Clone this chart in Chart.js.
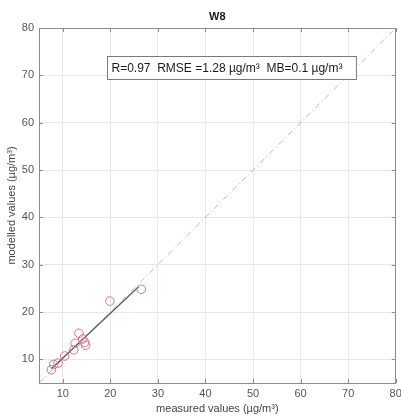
<!DOCTYPE html>
<html>
<head>
<meta charset="utf-8">
<script src="https://cdn.jsdelivr.net/npm/chart.js@4.4.1/dist/chart.umd.min.js"></script>
<style>
  html, body { margin: 0; padding: 0; background: #ffffff; }
  #wrap { width: 401px; height: 418px; position: relative; }
</style>
</head>
<body>
<div id="wrap"><canvas id="c" width="401" height="418"></canvas></div>
<script>
// Station W8: measured vs modelled concentrations
const measured = [7.6, 8.1, 9.0, 10.4, 12.3, 12.6, 13.4, 14.2, 14.6, 14.8, 19.9, 26.5];
const modelled = [7.8, 8.9, 9.2, 10.7, 12.0, 13.4, 15.5, 14.3, 13.6, 13.0, 22.3, 24.8];

// least-squares fit line end points (over the measured range)
const fitX = [7.6, 26.0];
const fitY = [8.0, 25.4];

// axis range and tick labels
const axisRange = [5, 80];
const tickValues = [10, 20, 30, 40, 50, 60, 70, 80];

const statsText = 'R=0.97  RMSE =1.28 µg/m³  MB=0.1 µg/m³';
const titleText = 'W8';

const FONT = '"Liberation Sans", Arial, sans-serif';

const points = measured.map((x, i) => ({ x: x, y: modelled[i] }));
const fitLine = fitX.map((x, i) => ({ x: x, y: fitY[i] }));
const oneToOne = axisRange.map(v => ({ x: v, y: v }));

function setTicks(scale) {
  scale.ticks = tickValues.map(v => ({ value: v }));
}

// box frame, inward tick marks, title and statistics annotation
const framePlugin = {
  id: 'frame',
  afterDraw(chart) {
    const { ctx, chartArea: a, scales } = chart;
    ctx.save();
    ctx.strokeStyle = '#8c8c8c';
    ctx.lineWidth = 1;
    ctx.strokeRect(Math.round(a.left) + 0.5, Math.round(a.top) + 0.5,
                   Math.round(a.right - a.left) - 1, Math.round(a.bottom - a.top));
    const len = 4;
    ctx.beginPath();
    tickValues.forEach(v => {
      const px = Math.round(scales.x.getPixelForValue(v)) + 0.5;
      ctx.moveTo(px, a.bottom); ctx.lineTo(px, a.bottom - len);
      ctx.moveTo(px, a.top); ctx.lineTo(px, a.top + len);
      const py = Math.round(scales.y.getPixelForValue(v)) + 0.5;
      ctx.moveTo(a.left, py); ctx.lineTo(a.left + len, py);
      ctx.moveTo(a.right, py); ctx.lineTo(a.right - len, py);
    });
    ctx.stroke();

    // title
    ctx.fillStyle = '#1a1a1a';
    ctx.font = 'bold 11px ' + FONT;
    ctx.textAlign = 'center';
    ctx.textBaseline = 'middle';
    ctx.fillText(titleText, (a.left + a.right) / 2, 17);

    // statistics box
    ctx.font = '12px ' + FONT;
    const tw = ctx.measureText(statsText).width;
    const bx = 107.5, by = 56.5, bh = 23;
    const bw = tw + 18;
    ctx.fillStyle = '#ffffff';
    ctx.fillRect(bx, by, bw, bh);
    ctx.strokeStyle = '#7a7a7a';
    ctx.strokeRect(bx, by, bw, bh);
    ctx.fillStyle = '#1a1a1a';
    ctx.textAlign = 'left';
    ctx.fillText(statsText, bx + 4, by + bh / 2 + 0.5);
    ctx.restore();
  }
};

new Chart(document.getElementById('c'), {
  type: 'scatter',
  data: {
    datasets: [
      {
        label: 'points',
        data: points,
        showLine: false,
        pointStyle: 'circle',
        pointRadius: 4.3,
        pointBorderWidth: 1,
        pointBackgroundColor: 'rgba(0,0,0,0)',
        pointBorderColor: '#dd6f86',
        order: 1
      },
      {
        label: 'fit',
        data: fitLine,
        showLine: true,
        borderColor: '#4f5672',
        borderWidth: 1.2,
        pointRadius: 0,
        order: 2
      },
      {
        label: '1:1',
        data: oneToOne,
        showLine: true,
        borderColor: '#b8b8b8',
        borderWidth: 1,
        borderDash: [6, 3, 1, 3],
        pointRadius: 0,
        order: 3
      }
    ]
  },
  options: {
    responsive: false,
    animation: false,
    devicePixelRatio: 1,
    layout: { padding: { left: 0, top: 28, right: 5, bottom: 0 } },
    plugins: {
      legend: { display: false },
      tooltip: { enabled: false },
      title: { display: false }
    },
    scales: {
      x: {
        type: 'linear',
        min: axisRange[0],
        max: axisRange[1],
        afterBuildTicks: setTicks,
        afterFit(scale) { scale.height = 35; scale.paddingLeft = 0; scale.paddingRight = 0; },
        grid: { color: '#e8e8e8', drawTicks: false },
        border: { display: false },
        ticks: { color: '#555555', font: { family: FONT, size: 11 }, padding: 4, maxRotation: 0 },
        title: {
          display: true,
          text: 'measured values (µg/m³)',
          color: '#444444',
          font: { family: FONT, size: 11 },
          padding: { top: 0, bottom: 2 }
        }
      },
      y: {
        type: 'linear',
        min: axisRange[0],
        max: axisRange[1],
        afterBuildTicks: setTicks,
        afterFit(scale) { scale.width = 39; scale.paddingTop = 0; scale.paddingBottom = 0; },
        grid: { color: '#e8e8e8', drawTicks: false },
        border: { display: false },
        ticks: { color: '#555555', font: { family: FONT, size: 11 }, padding: 5 },
        title: {
          display: true,
          text: 'modelled values (µg/m³)',
          color: '#444444',
          font: { family: FONT, size: 11 },
          padding: { top: 5, bottom: 0 }
        }
      }
    }
  },
  plugins: [framePlugin]
});
</script>
</body>
</html>
